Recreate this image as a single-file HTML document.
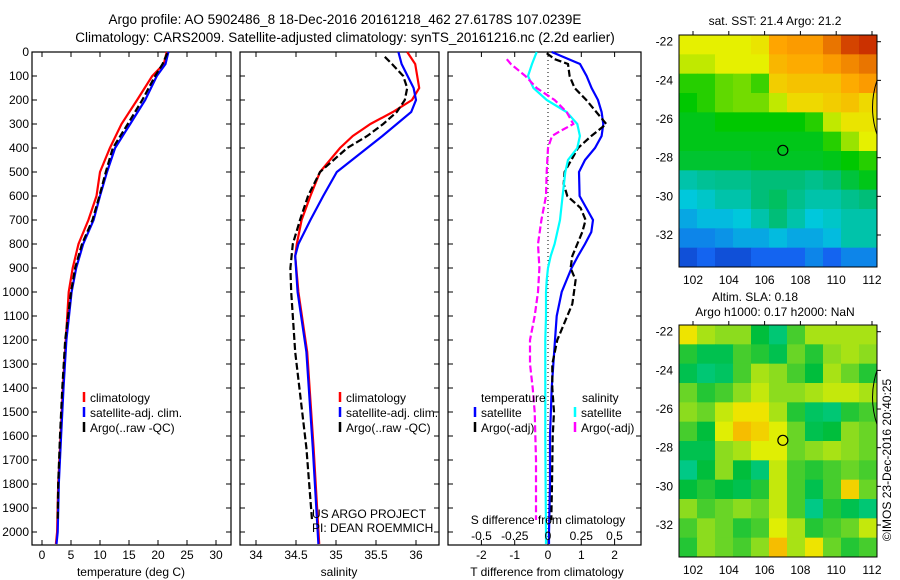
<!DOCTYPE html>
<html><head><meta charset="utf-8"><style>
body{margin:0;background:#fff}
svg{display:block;font-family:"Liberation Sans",sans-serif}
</style></head><body>
<svg id="s" width="900" height="580" viewBox="0 0 900 580">
<text x="345" y="24" font-size="13.5" text-anchor="middle">Argo profile: AO 5902486_8 18-Dec-2016 20161218_462 27.6178S 107.0239E</text>
<text x="345" y="42" font-size="13.5" text-anchor="middle">Climatology: CARS2009. Satellite-adjusted climatology: synTS_20161216.nc (2.2d earlier)</text>
<text x="775" y="25" font-size="12" text-anchor="middle">sat. SST: 21.4 Argo: 21.2</text>
<text x="755" y="301" font-size="12" text-anchor="middle">Altim. SLA: 0.18</text>
<text x="775" y="316" font-size="12" text-anchor="middle">Argo h1000: 0.17 h2000: NaN</text>
<text transform="translate(891,460) rotate(-90)" font-size="12" text-anchor="middle">©IMOS 23-Dec-2016 20:40:25</text>
</svg>
<script>
// ---- data ----
const depthTicks=[0,100,200,300,400,500,600,700,800,900,1000,1100,1200,1300,1400,1500,1600,1700,1800,1900,2000];
const tempTicks=[0,5,10,15,20,25,30];
const salTicks=[34,34.5,35,35.5,36];
const dTTicks=[-2,-1,0,1,2];
const dSTickLabels=["-0.5","-0.25","0","0.25","0.5"];
const dSTicks=[-0.5,-0.25,0,0.25,0.5];
const zClim=[0,50,100,200,300,400,500,600,700,800,900,1000,1200,1400,1600,1800,2000,2050];
const tClim=[21.5,21.0,19.0,16.4,13.7,11.7,10.0,9.4,8.0,6.3,5.3,4.6,4.1,3.6,3.2,2.8,2.6,2.4];
const tSat=[21.8,21.3,19.8,17.8,15.2,12.6,11.2,10.0,8.9,7.1,5.9,5.1,4.2,3.7,3.3,2.9,2.7,2.5];
const zArgo=[5,50,100,200,300,400,500,600,700,800,900,1000,1200,1400,1600,1800,1950];
const tArgo=[21.6,20.8,19.5,17.3,14.8,12.2,11.0,9.9,8.7,6.9,5.7,5.0,4.0,3.5,3.1,2.8,2.7];
const zS=[0,50,150,200,250,300,350,400,500,600,700,800,850,1000,1250,1650,2050];
const sClim=[35.89,35.99,36.04,35.95,35.71,35.43,35.21,35.05,34.8,34.68,34.57,34.51,34.49,34.53,34.64,34.72,34.79];
const sSat=[35.78,35.82,35.97,36.0,35.94,35.76,35.58,35.39,35.01,34.84,34.68,34.53,34.49,34.52,34.63,34.71,34.78];
const zSA=[20,50,100,150,200,250,300,350,400,500,600,700,800,900,1000,1250,1650,1950];
const sArgo=[35.61,35.7,35.84,35.89,35.86,35.76,35.59,35.39,35.14,34.8,34.65,34.55,34.46,34.43,34.44,34.49,34.63,34.7];
const zD=[0,50,100,150,200,250,300,350,400,450,500,600,650,700,750,800,850,900,950,1000,1100,1200,1400,1600,1800,2000,2050];
const dTSat=[0.11,0.96,1.16,1.31,1.5,1.61,1.66,1.61,1.41,1.11,0.93,0.95,1.15,1.35,1.3,1.11,0.9,0.71,0.56,0.41,0.26,0.21,0.11,0.06,0.06,0.03,0.03];
const zDA=[5,30,50,100,150,200,250,300,350,400,450,500,550,600,650,700,750,800,850,900,950,1000,1050,1100,1200,1300,1400,1500,1600,1800,1950];
const dTArgo=[-0.04,0.2,0.6,0.65,0.8,1.15,1.45,1.75,1.3,0.9,0.7,0.5,0.47,0.58,0.98,1.13,1.03,0.88,0.73,0.68,0.83,0.78,0.73,0.58,0.28,0.13,0.13,0.18,0.14,0.12,0.1];
const dSSat=[-0.085,-0.12,-0.15,-0.11,-0.01,0.14,0.22,0.24,0.22,0.15,0.13,0.11,0.1,0.09,0.07,0.05,0.02,0,-0.01,-0.015,-0.015,-0.02,-0.02,-0.02,-0.018,-0.015,-0.015];
const zSD=[30,50,100,150,200,250,300,330,350,400,500,600,700,800,900,1000,1100,1200,1300,1400,1500,1700,1950];
const dSArgo=[-0.31,-0.28,-0.17,-0.085,0.05,0.14,0.19,0.09,0.03,0,-0.01,-0.015,-0.05,-0.075,-0.065,-0.075,-0.1,-0.135,-0.135,-0.115,-0.1,-0.09,-0.09];
const lonTicks=[102,104,106,108,110,112];
const latTicks=[-22,-24,-26,-28,-30,-32];
const sstGrid=[
[.72,.72,.72,.72,.74,.85,.86,.86,.9,.95,.97],
[.7,.7,.72,.72,.72,.82,.84,.84,.86,.88,.9],
[.62,.62,.65,.66,.63,.78,.8,.8,.8,.84,.86],
[.6,.62,.65,.66,.66,.7,.76,.76,.78,.8,.76],
[.58,.58,.6,.6,.6,.6,.6,.62,.7,.74,.74],
[.58,.58,.58,.58,.58,.58,.58,.58,.62,.68,.72],
[.56,.56,.56,.56,.57,.57,.57,.57,.58,.6,.62],
[.45,.47,.48,.48,.5,.5,.5,.48,.5,.55,.58],
[.4,.42,.45,.45,.5,.52,.48,.45,.45,.48,.5],
[.35,.38,.38,.4,.45,.5,.45,.4,.42,.45,.45],
[.3,.3,.32,.35,.35,.38,.35,.35,.38,.45,.45],
[.2,.25,.2,.2,.25,.25,.25,.3,.25,.3,.3]];
const slaGrid=[
[.75,.6,.55,.55,.35,.2,.45,.6,.6,.6,.6],
[.4,.3,.3,.45,.4,.3,.5,.4,.55,.6,.55],
[.3,.2,.25,.45,.6,.55,.45,.35,.6,.5,.4],
[.5,.4,.45,.55,.65,.55,.55,.6,.65,.65,.6],
[.55,.5,.65,.75,.75,.6,.4,.25,.2,.4,.45],
[.45,.35,.7,.85,.8,.7,.5,.3,.35,.55,.5],
[.3,.3,.55,.6,.7,.7,.5,.55,.6,.55,.5],
[.15,.35,.55,.35,.2,.65,.45,.4,.45,.5,.45],
[.35,.4,.35,.3,.4,.65,.45,.3,.45,.8,.5],
[.55,.45,.5,.55,.5,.65,.45,.15,.4,.3,.2],
[.45,.55,.5,.4,.45,.7,.6,.4,.45,.5,.65],
[.4,.55,.5,.45,.55,.85,.6,.75,.5,.4,.45]];

// ---- drawing ----
const S=document.getElementById('s'),NS='http://www.w3.org/2000/svg';
function el(t,a,p){const e=document.createElementNS(NS,t);for(const k in a)e.setAttribute(k,a[k]);(p||S).appendChild(e);return e;}
function txt(x,y,s,a,name){const e=el('text',Object.assign({x:x,y:y,'font-size':12},a||{}));e.textContent=s;


return e;}
const PT=52,PB=545;
const yD=d=>52+0.24*d;
const xT=v=>42+5.8*v, xS=v=>256+80*(v-34), xDT=v=>548+33.3*v, xDS=v=>548+133*v;
const panels=[[32,231],[240,439],[448,641]];
function frame(x0,x1,name){const r=el('rect',{x:x0,y:PT,width:x1-x0,height:PB-PT,fill:'none',stroke:'#000','stroke-width':1.2});


depthTicks.forEach(d=>{el('line',{x1:x0,x2:x0+5,y1:yD(d),y2:yD(d),stroke:'#000'});el('line',{x1:x1,x2:x1-5,y1:yD(d),y2:yD(d),stroke:'#000'});});}
function xticks(ticks,fx,x0,x1,labels,ly,name){ticks.forEach((t,i)=>{const x=fx(t);el('line',{x1:x,x2:x,y1:PT,y2:PT+5,stroke:'#000'});el('line',{x1:x,x2:x,y1:PB,y2:PB-5,stroke:'#000'});
if(labels)txt(x,ly,labels[i],{'text-anchor':'middle'},name);});}
function line(zs,vs,fx,col,dash,name){const d=zs.map((z,i)=>(i?'L':'M')+fx(vs[i]).toFixed(1)+','+yD(z).toFixed(1)).join('');
const p=el('path',{d:d,fill:'none',stroke:col,'stroke-width':2.2,'stroke-dasharray':dash||'none'});

}
panels.forEach((p,i)=>frame(p[0],p[1],'panel-frame-'+(i+1)));
depthTicks.forEach(d=>txt(29,yD(d)+4,String(d),{'text-anchor':'end'},'depth-tick-label'));
xticks(tempTicks,xT,32,231,tempTicks.map(String),559,'temp-tick-label');
xticks(salTicks,xS,240,439,salTicks.map(String),559,'sal-tick-label');
xticks(dTTicks,xDT,448,641,dTTicks.map(String),559,'dt-tick-label');
txt(131,576,'temperature (deg C)',{'text-anchor':'middle'},'temp-axis-title');
txt(339,576,'salinity',{'text-anchor':'middle'},'sal-axis-title');
txt(547,576,'T difference from climatology',{'text-anchor':'middle'},'dt-axis-title');
el('line',{x1:548,x2:548,y1:PT,y2:PB,stroke:'#000','stroke-dasharray':'1,3'});
line(zClim,tClim,xT,'#f00',null,'temp-climatology-line');
line(zClim,tSat,xT,'#00f',null,'temp-satellite-line');
line(zArgo,tArgo,xT,'#000','7,3','temp-argo-line');
line(zS,sClim,xS,'#f00',null,'sal-climatology-line');
line(zS,sSat,xS,'#00f',null,'sal-satellite-line');
line(zSA,sArgo,xS,'#000','7,3','sal-argo-line');
line(zD,dTSat,xDT,'#00f',null,'dt-satellite-line');
line(zDA,dTArgo,xDT,'#000','7,3','dt-argo-line');
line(zD,dSSat,xDS,'#0ff',null,'ds-satellite-line');
line(zSD,dSArgo,xDS,'#f0f','7,3','ds-argo-line');
function leg(x,y,col,s,name){el('line',{x1:x,x2:x,y1:y-10,y2:y,stroke:col,'stroke-width':2.5});txt(x+6,y,s,{},name);}
leg(84,402,'#f00','climatology','legend-climatology');leg(84,417,'#00f','satellite-adj. clim.','legend-satellite');leg(84,432,'#000','Argo(..raw -QC)','legend-argo');
leg(340,402,'#f00','climatology','legend2-climatology');leg(340,417,'#00f','satellite-adj. clim.','legend2-satellite');leg(340,432,'#000','Argo(..raw -QC)','legend2-argo');
txt(481,402,'temperature',{},'legend-temperature-heading');txt(582,402,'salinity',{},'legend-salinity-heading');
leg(475,417,'#00f','satellite','legend-t-satellite');leg(475,432,'#000','Argo(-adj)','legend-t-argo');
leg(575,417,'#0ff','satellite','legend-s-satellite');leg(575,432,'#f0f','Argo(-adj)','legend-s-argo');
txt(312,518,'US ARGO PROJECT',{},'project-label');txt(312,532,'PI: DEAN ROEMMICH',{},'pi-label');
txt(548,524,'S difference from climatology',{'text-anchor':'middle'},'ds-axis-title');
dSTicks.forEach((t,i)=>txt(xDS(t),540,dSTickLabels[i],{'text-anchor':'middle'},'ds-tick-label'));
// maps
function lerpC(stops,v){for(let i=1;i<stops.length;i++){if(v<=stops[i][0]||i==stops.length-1){const a=stops[i-1],b=stops[i];const t=Math.max(0,Math.min(1,(v-a[0])/(b[0]-a[0])));return 'rgb('+[1,2,3].map(k=>Math.round(a[k]+(b[k]-a[k])*t)).join(',')+')';}}}
const jet=[[0,0,0,120],[.25,20,100,240],[.4,0,200,220],[.5,0,190,120],[.6,0,200,0],[.72,230,240,0],[.85,255,165,0],[1,190,20,0]];
const slaC=[[0,0,210,190],[.35,0,190,60],[.55,140,220,30],[.72,235,240,0],[.9,250,170,0]];
const mx=v=>693+17.9*(v-102);
function map(y0,grid,cm,name){const g=el('g',{});
const X0=679,X1=877,Y1=y0+232,my=v=>y0+6.7+19.33*(-22-v);
const cw=(X1-X0)/grid[0].length,ch=(Y1-y0)/grid.length;
grid.forEach((r,i)=>r.forEach((v,j)=>el('rect',{x:X0+j*cw,y:y0+i*ch,width:cw+0.5,height:ch+0.5,fill:lerpC(cm,v)},g)));
el('rect',{x:X0,y:y0,width:X1-X0,height:Y1-y0,fill:'none',stroke:'#000'},g);
lonTicks.forEach(l=>{el('line',{x1:mx(l),x2:mx(l),y1:y0,y2:y0-4,stroke:'#000'},g);txt(mx(l),Y1+17,String(l),{'text-anchor':'middle'},'lon-tick-label');});
latTicks.forEach(l=>{el('line',{x1:X1,x2:X1+4,y1:my(l),y2:my(l),stroke:'#000'},g);txt(673,my(l)+4,String(l),{'text-anchor':'end'},'lat-tick-label');});
el('path',{d:`M877,${my(-24)} Q868,${my(-25.4)} 877,${my(-26.8)}`,fill:'none',stroke:'#000'},g);
const c=el('circle',{cx:mx(107.02),cy:my(-27.62),r:5,fill:'none',stroke:'#000','stroke-width':1.2},g);
}
map(35,sstGrid,jet,'sst-map');
map(325,slaGrid,slaC,'sla-map');
</script>
</body></html>
